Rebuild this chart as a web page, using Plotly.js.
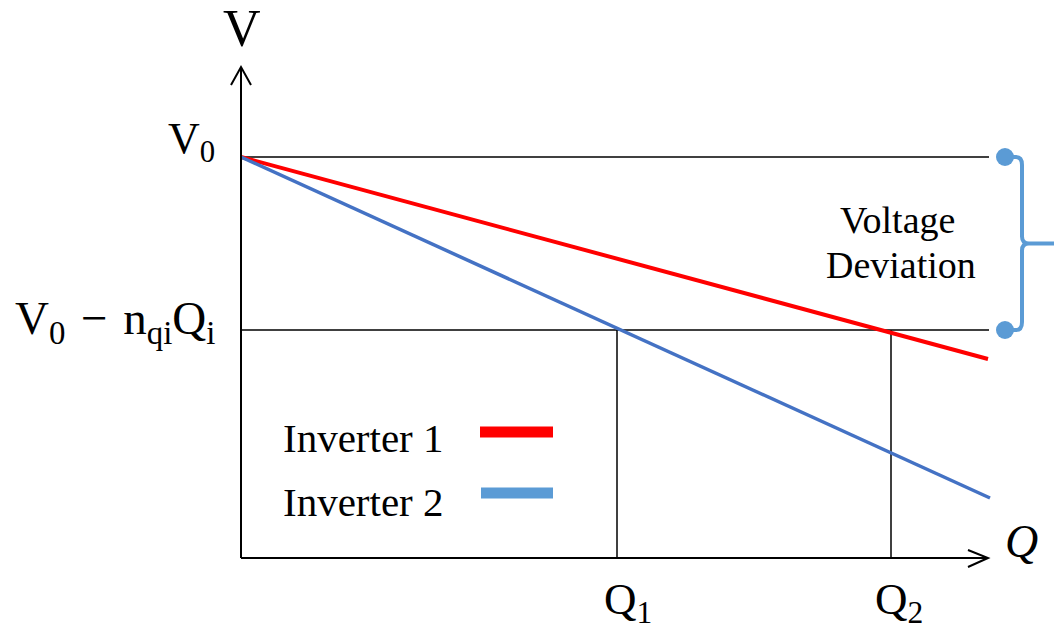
<!DOCTYPE html>
<html>
<head>
<meta charset="utf-8">
<script src="https://cdn.plot.ly/plotly-3.0.1.min.js"></script>
<style>html,body{margin:0;padding:0;background:#fff;}#chart{width:1054px;height:632px;}</style>
</head>
<body>
<div id="chart"></div>
<script>
// ---- data (arbitrary units) ----
const seriesNames = ["Inverter 1", "Inverter 2"];
const qStart = [0, 0];
const qEnd = [7.47, 7.49];
const vStartSeries = [4.01, 4.01];
const vEndSeries = [1.99, 0.60];
const V0 = 4.01;          // no-load voltage
const Vdev = 2.28;        // V0 - n_qi Q_i
const Q1 = 3.76;
const Q2 = 6.50;
const Qmax = 7.47;        // end of axis / guide lines
const Vmax = 4.91;        // end of V axis
const bracketX = 7.64;

const FONT = "Liberation Serif";
const lineColors = ["#FF0000", "#4472C4"];
const legendColors = ["#FF0000", "#5B9BD5"];
const bracketColor = "#5B9BD5";

const traces = [];
// guide lines
traces.push({x: [0, Qmax + 0.01], y: [V0, V0], mode: "lines", line: {color: "#000", width: 1.5}, hoverinfo: "skip"});
traces.push({x: [0, Qmax + 0.01], y: [Vdev, Vdev], mode: "lines", line: {color: "#000", width: 1.5}, hoverinfo: "skip"});
traces.push({x: [Q1, Q1], y: [0, Vdev], mode: "lines", line: {color: "#000", width: 1.5}, hoverinfo: "skip"});
traces.push({x: [Q2, Q2], y: [0, Vdev], mode: "lines", line: {color: "#000", width: 1.5}, hoverinfo: "skip"});
// droop lines
for (let i = 0; i < seriesNames.length; i++) {
  traces.push({x: [qStart[i], qEnd[i]], y: [vStartSeries[i], vEndSeries[i]], mode: "lines",
    name: seriesNames[i], line: {color: lineColors[i], width: i === 0 ? 4 : 3.5}});
}
// bracket dots
traces.push({x: [bracketX, bracketX], y: [V0, Vdev], mode: "markers",
  marker: {color: bracketColor, size: 18}, hoverinfo: "skip"});

const bx = 7.81, bm = (V0 + Vdev) / 2, bend = 8.14;
const shapes = [
  // axes
  {type: "line", x0: 0, y0: 0, x1: Qmax, y1: 0, line: {color: "#000", width: 2}},
  {type: "line", x0: 0, y0: 0, x1: 0, y1: Vmax, line: {color: "#000", width: 2}},
  {type: "path", path: `M ${Qmax-0.20},0.08 L ${Qmax},0 L ${Qmax-0.20},-0.09`, line: {color: "#000", width: 2}},
  {type: "path", path: `M -0.10,${Vmax-0.18} L 0,${Vmax} L 0.10,${Vmax-0.18}`, line: {color: "#000", width: 2}},
  // bracket
  {type: "path", path: `M ${bracketX},${V0} L ${bx-0.06},${V0} Q ${bx},${V0} ${bx},${V0-0.08} L ${bx},${bm+0.07} Q ${bx},${bm} ${bx+0.07},${bm} L ${bend},${bm} M ${bx+0.07},${bm} Q ${bx},${bm} ${bx},${bm-0.07} L ${bx},${Vdev+0.08} Q ${bx},${Vdev} ${bx-0.06},${Vdev} L ${bracketX},${Vdev}`,
   line: {color: bracketColor, width: 4}},
  // legend samples
  {type: "line", x0: 2.39, x1: 3.12, y0: 1.26, y1: 1.26, line: {color: legendColors[0], width: 11}},
  {type: "line", x0: 2.40, x1: 3.12, y0: 0.65, y1: 0.65, line: {color: legendColors[1], width: 11}}
];

const ann = (text, x, y, size, xanchor, extra) => Object.assign({
  text: text, x: x, y: y, xref: "x", yref: "y", showarrow: false,
  xanchor: xanchor || "center", yanchor: "middle",
  font: {family: FONT, size: size, color: "#000"}
}, extra || {});

const annotations = [
  ann("V", 0.01, 5.30, 52),
  ann("V<sub>0</sub>", -0.24, 4.17, 44, "right"),
  ann("V<sub>0</sub>\u2004\u2212\u2004n<sub>qi</sub>Q<sub>i</sub>", -0.24, 2.37, 47, "right"),
  ann(seriesNames[0], 0.40, 1.20, 41, "left"),
  ann(seriesNames[1], 0.40, 0.56, 41, "left"),
  ann("Voltage", 6.56, 3.38, 38),
  ann("Deviation", 6.60, 2.93, 38),
  ann("<i>Q</i>", 7.62, 0.17, 46, "left"),
  ann("Q<sub>1</sub>", Q1 - 0.15, -0.44, 45, "left"),
  ann("Q<sub>2</sub>", Q2 - 0.18, -0.44, 45, "left")
];

const layout = {
  width: 1054, height: 632,
  margin: {l: 0, r: 0, t: 0, b: 0},
  paper_bgcolor: "#fff", plot_bgcolor: "#fff",
  showlegend: false,
  xaxis: {range: [-2.41, 8.13], visible: false, fixedrange: true},
  yaxis: {range: [-0.74, 5.58], visible: false, fixedrange: true},
  shapes: shapes,
  annotations: annotations
};

Plotly.newPlot("chart", traces, layout, {displayModeBar: false, staticPlot: true});
</script>
</body>
</html>
